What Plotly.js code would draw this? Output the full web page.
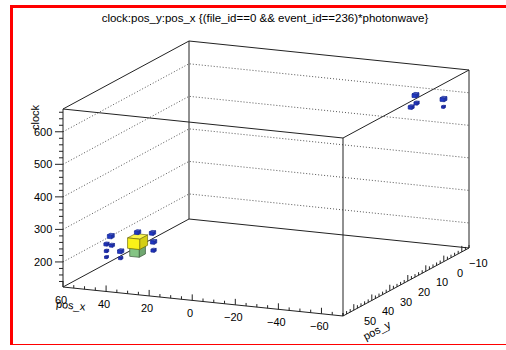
<!DOCTYPE html>
<html><head><meta charset="utf-8">
<script src="https://cdn.plot.ly/plotly-3.0.1.min.js"></script>
<style>html,body{margin:0;padding:0;background:#fff;}#chart{width:506px;height:350px;}</style>
</head><body><div id="chart"></div>
<script>
// ---- data: filled bins of the 3D histogram (pos_x, pos_y, clock, relative content) ----
const posX    = [40.0, 40.0, 40.0, 36.0, 35.5, 35.5, 49.5, 51.5, 49.0, 51.5, 51.5, 42.0, 42.0, -48.5, -49.0, -46.5, -61.5, -61.5];
const posY    = [38.5, 38.5, 38.5, 35.0, 35.0, 35.0, 42.0, 42.0, 42.0, 42.0, 42.0, 45.5, 45.5, -10.0, -10.0, -10.0, -10.0, -10.0];
const clock   = [224, 195, 253, 243, 216, 190, 245, 219, 217, 198, 179, 214, 193, 590, 566, 552, 587, 563];
const content = [1.0, 0.62, 0.10, 0.10, 0.10, 0.07, 0.12, 0.07, 0.07, 0.05, 0.04, 0.10, 0.05, 0.12, 0.07, 0.09, 0.12, 0.04];
// axes
const xRange = [-70, 60], yRange = [-14, 56], zRange = [123, 670];
const xTicks = [60, 40, 20, 0, -20, -40, -60];
const yTicks = [50, 40, 30, 20, 10, 0, -10];
const zTicks = [200, 300, 400, 500, 600];
const titleText = 'clock:pos_y:pos_x {(file_id==0 && event_id==236)*photonwave}';

// ---- view (parallel projection of the axis box onto the page, in pixels) ----
const O = [63, 287], VX = [280, 29], VY = [126, -68], VZ = [0, -178];
const binW = {x: 5.6, y: 4.4, z: 32};
function P(x, y, z) {
  const fx = (xRange[1] - x) / (xRange[1] - xRange[0]);
  const fy = (yRange[1] - y) / (yRange[1] - yRange[0]);
  const fz = (z - zRange[0]) / (zRange[1] - zRange[0]);
  return [O[0] + fx*VX[0] + fy*VY[0] + fz*VZ[0], O[1] + fx*VX[1] + fy*VY[1] + fz*VZ[1]];
}
function depth(x, y, z) { // larger = nearer to viewer
  return -0.39*(x - xRange[0])/(xRange[1]-xRange[0]) + 0.89*1.03*(y - yRange[0])/(yRange[1]-yRange[0]) + 0.236*0.6*(z - zRange[0])/(zRange[1]-zRange[0]);
}
const font = {family: 'Liberation Sans, Arial, sans-serif', size: 11, color: '#000'};
const traces = [];
const annotations = [];
function lineTrace(pts, style) {
  const xs = [], ys = [];
  pts.forEach(p => { if (p) { xs.push(p[0]); ys.push(p[1]); } else { xs.push(null); ys.push(null); } });
  traces.push({type:'scatter', mode:'lines', x:xs, y:ys, line:style, hoverinfo:'skip', showlegend:false});
}
const [x0, x1] = xRange, [y0, y1] = yRange, [z0, z1] = zRange;

// grid on the two back walls
const g = [];
zTicks.forEach(z => { g.push(P(x1, y1, z), P(x1, y0, z), P(x0, y0, z), null); });
lineTrace(g, {color:'#555', width:1, dash:'1px,2px'});

// frame (12 edges)
const f = [];
[z0, z1].forEach(z => { f.push(P(x1,y1,z), P(x0,y1,z), P(x0,y0,z), P(x1,y0,z), P(x1,y1,z), null); });
[[x1,y1],[x0,y1],[x0,y0],[x1,y0]].forEach(([x,y]) => { f.push(P(x,y,z0), P(x,y,z1), null); });
lineTrace(f, {color:'#222', width:1});

// ticks
const t = [];
for (let v = 60; v >= x0; v -= 5) { const p = P(v, y1, z0); const L = v % 20 === 0 ? 6 : 3; t.push(p, [p[0], p[1]-L], null); }
for (let v = 56; v >= y0; v -= 2) { const p = P(x0, v, z0); const L = v % 10 === 0 ? 6 : 3; t.push(p, [p[0], p[1]-L], null); }
for (let v = 140; v <= z1; v += 20) { const p = P(x1, y1, v); const L = v % 100 === 0 ? 8 : 4; t.push(p, [p[0]-L, p[1]], null); }
lineTrace(t, {color:'#222', width:1});

// tick labels
xTicks.forEach(v => { const p = P(v, y1, z0); annotations.push({x:p[0]-2, y:p[1]+12.5, text:String(v).replace('-', '\u2212'), showarrow:false, xanchor:'center', yanchor:'middle', font}); });
yTicks.forEach(v => { const p = P(x0, v, z0); annotations.push({x:p[0]+16.5, y:p[1]+11, text:String(v).replace('-', '\u2212'), showarrow:false, xanchor:'center', yanchor:'middle', font}); });
zTicks.forEach(v => { const p = P(x1, y1, v); annotations.push({x:p[0]-9, y:p[1], text:String(v), showarrow:false, xanchor:'right', yanchor:'middle', font}); });
// axis titles
annotations.push({x:35, y:117, text:'clock', showarrow:false, textangle:-90, font});
annotations.push({x:71, y:305, text:'pos_x', showarrow:false, textangle:6, font});
annotations.push({x:377, y:330, text:'pos_y', showarrow:false, textangle:-28, font});

// ---- boxes ----
const stops = [[0,[28,42,190]],[0.3,[40,80,210]],[0.62,[132,196,132]],[1,[250,242,24]]];
function pal(c) {
  for (let i = 1; i < stops.length; i++) {
    if (c <= stops[i][0]) {
      const a = stops[i-1], b = stops[i], u = (c - a[0])/(b[0]-a[0]);
      return a[1].map((q, k) => q + u*(b[1][k]-q));
    }
  }
  return stops[stops.length-1][1];
}
const rgb = (c, m) => 'rgb(' + c.map(q => Math.max(0, Math.min(255, Math.round(m >= 1 ? q + (255-q)*(m-1) : q*m)))).join(',') + ')';
const order = posX.map((_, i) => i).sort((a, b) => depth(posX[a],posY[a],clock[a]) - depth(posX[b],posY[b],clock[b]));
order.forEach(b => {
  const s = Math.sqrt(content[b]);
  const hx = binW.x/2*s, hy = binW.y/2*s, hz = binW.z/2*s;
  const xa = posX[b]-hx, xb = posX[b]+hx, ya = posY[b]-hy, yb = posY[b]+hy, za = clock[b]-hz, zb = clock[b]+hz;
  const base = pal(content[b]);
  const facesDef = [
    {pts:[P(xa,ya,za),P(xa,yb,za),P(xa,yb,zb),P(xa,ya,zb)], m:0.85},  // side
    {pts:[P(xa,ya,zb),P(xb,ya,zb),P(xb,yb,zb),P(xa,yb,zb)], m:1.22},  // top
    {pts:[P(xa,yb,za),P(xb,yb,za),P(xb,yb,zb),P(xa,yb,zb)], m:1.0}    // front
  ];
  facesDef.forEach(fd => {
    const xs = fd.pts.map(p => p[0]), ys = fd.pts.map(p => p[1]);
    xs.push(xs[0]); ys.push(ys[0]);
    traces.push({type:'scatter', mode:'lines', x:xs, y:ys, fill:'toself', fillcolor:rgb(base, fd.m),
      line:{color:rgb(base, content[b] > 0.5 ? 0.45 : 0.75), width:0.7}, hoverinfo:'skip', showlegend:false});
  });
});

const layout = {
  width:506, height:350, margin:{l:0, r:0, t:0, b:0}, paper_bgcolor:'#fff', plot_bgcolor:'rgba(0,0,0,0)', showlegend:false,
  xaxis:{range:[0,506], visible:false, fixedrange:true},
  yaxis:{range:[350,0], visible:false, fixedrange:true},
  title:{text:titleText, font:{family:'Liberation Sans, Arial, sans-serif', size:11.5, color:'#000'}, x:0.5237, xanchor:'center', y:1-17.5/350, yanchor:'middle', yref:'container'},
  annotations: annotations,
  shapes:[
    {type:'line', xref:'paper', yref:'paper', x0:10/506, x1:1, y0:1-6.5/350, y1:1-6.5/350, line:{color:'#ff0000', width:3}},
    {type:'line', xref:'paper', yref:'paper', x0:11.5/506, x1:11.5/506, y0:1-5/350, y1:1-345/350, line:{color:'#ff0000', width:3}},
    {type:'line', xref:'paper', yref:'paper', x0:10/506, x1:1, y0:1-344.5/350, y1:1-344.5/350, line:{color:'#ff0000', width:1}}
  ]
};
Plotly.newPlot('chart', traces, layout, {displayModeBar:false, staticPlot:true});
</script></body></html>
